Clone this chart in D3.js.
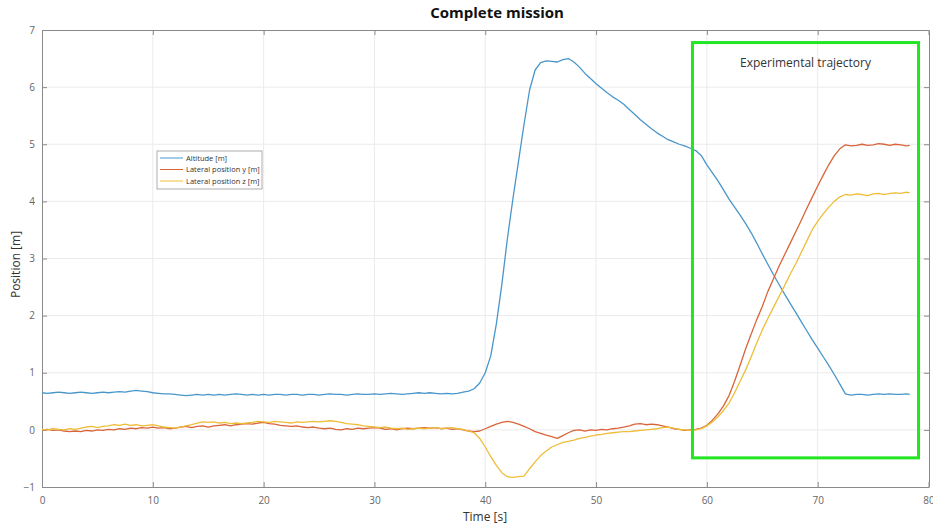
<!DOCTYPE html>
<html>
<head>
<meta charset="utf-8">
<script src="https://cdn.jsdelivr.net/npm/d3@7"></script>
<style>
  body { margin: 0; background: #fff; }
  text { font-family: "Open Sans", "Noto Sans", sans-serif; }
</style>
</head>
<body>
<div id="chart"></div>
<script>

// ------------------------------------------------------------------------ //
// DATA
// ------------------------------------------------------------------------ //

var time = [
  0, 0.5, 1, 1.5, 2, 2.5, 3, 3.5, 4, 4.5, 5, 5.5, 6, 6.5, 7, 7.5, 8, 8.5, 9, 9.5,
  10, 10.5, 11, 11.5, 12, 12.5, 13, 13.5, 14, 14.5, 15, 15.5, 16, 16.5, 17, 17.5, 18, 18.5, 19, 19.5,
  20, 20.5, 21, 21.5, 22, 22.5, 23, 23.5, 24, 24.5, 25, 25.5, 26, 26.5, 27, 27.5, 28, 28.5, 29, 29.5,
  30, 30.5, 31, 31.5, 32, 32.5, 33, 33.5, 34, 34.5, 35, 35.5, 36, 36.5, 37, 37.5, 38, 38.5, 39, 39.5,
  40, 40.5, 41, 41.5, 42, 42.5, 43, 43.5, 44, 44.5, 45, 45.5, 46, 46.5, 47, 47.5, 48, 48.5, 49, 49.5,
  50, 50.5, 51, 51.5, 52, 52.5, 53, 53.5, 54, 54.5, 55, 55.5, 56, 56.5, 57, 57.5, 58, 58.5, 59, 59.5,
  60, 60.5, 61, 61.5, 62, 62.5, 63, 63.5, 64, 64.5, 65, 65.5, 66, 66.5, 67, 67.5, 68, 68.5, 69, 69.5,
  70, 70.5, 71, 71.5, 72, 72.5, 73, 73.5, 74, 74.5, 75, 75.5, 76, 76.5, 77, 77.5, 78, 78.3
]

var altitude = [
  0.65, 0.64, 0.65, 0.66, 0.65, 0.64, 0.65, 0.66, 0.65, 0.64, 0.65, 0.66, 0.65, 0.66, 0.67, 0.66, 0.68, 0.69, 0.68, 0.67,
  0.65, 0.64, 0.63, 0.63, 0.62, 0.61, 0.60, 0.61, 0.62, 0.61, 0.62, 0.61, 0.62, 0.61, 0.62, 0.63, 0.62, 0.61, 0.62, 0.61,
  0.62, 0.61, 0.62, 0.62, 0.61, 0.62, 0.62, 0.61, 0.62, 0.62, 0.61, 0.62, 0.63, 0.62, 0.62, 0.61, 0.62, 0.63, 0.62, 0.62,
  0.63, 0.62, 0.63, 0.64, 0.63, 0.62, 0.63, 0.64, 0.65, 0.64, 0.65, 0.64, 0.63, 0.64, 0.63, 0.64, 0.66, 0.68, 0.72, 0.82,
  1.00, 1.30, 1.85, 2.55, 3.35, 4.05, 4.70, 5.35, 5.95, 6.30, 6.43, 6.46, 6.45, 6.44, 6.48, 6.50, 6.44, 6.35, 6.24, 6.15,
  6.06, 5.98, 5.90, 5.83, 5.77, 5.70, 5.61, 5.52, 5.43, 5.35, 5.27, 5.20, 5.14, 5.08, 5.04, 5.00, 4.97, 4.93, 4.89, 4.80,
  4.64, 4.50, 4.36, 4.20, 4.04, 3.90, 3.76, 3.61, 3.45, 3.27, 3.08, 2.90, 2.72, 2.55, 2.38, 2.22, 2.06, 1.90, 1.74, 1.58,
  1.43, 1.28, 1.13, 0.97, 0.80, 0.63, 0.61, 0.62, 0.62, 0.61, 0.62, 0.63, 0.62, 0.63, 0.62, 0.62, 0.63, 0.62
]

var lateralY = [
  0.00, 0.01, -0.01, 0.00, -0.02, -0.03, -0.02, -0.03, -0.01, -0.02, 0.00, -0.01, 0.01, 0.00, 0.02, 0.01, 0.03, 0.02, 0.04, 0.03,
  0.05, 0.03, 0.04, 0.02, 0.03, 0.05, 0.06, 0.04, 0.06, 0.07, 0.05, 0.07, 0.08, 0.09, 0.07, 0.09, 0.10, 0.11, 0.10, 0.12,
  0.13, 0.11, 0.10, 0.08, 0.07, 0.06, 0.07, 0.05, 0.04, 0.05, 0.03, 0.02, 0.03, 0.01, 0.00, 0.02, 0.01, 0.03, 0.02, 0.03,
  0.04, 0.03, 0.01, 0.02, 0.00, 0.02, 0.03, 0.02, 0.03, 0.04, 0.03, 0.04, 0.02, 0.03, 0.01, 0.02, 0.00, -0.02, -0.03, -0.02,
  0.02, 0.06, 0.10, 0.13, 0.15, 0.13, 0.10, 0.06, 0.02, -0.03, -0.06, -0.09, -0.12, -0.15, -0.10, -0.05, -0.01, 0.00, -0.02, 0.00,
  -0.01, 0.01, 0.00, 0.02, 0.03, 0.05, 0.07, 0.10, 0.11, 0.09, 0.10, 0.09, 0.07, 0.05, 0.02, 0.01, -0.01, 0.00, 0.01, 0.03,
  0.08, 0.17, 0.28, 0.42, 0.60, 0.85, 1.13, 1.42, 1.68, 1.93, 2.16, 2.42, 2.64, 2.86, 3.06, 3.26, 3.46, 3.66, 3.87, 4.07,
  4.27, 4.46, 4.64, 4.80, 4.92, 4.99, 4.97, 4.98, 5.00, 4.98, 4.99, 5.01, 5.00, 4.98, 5.00, 4.99, 4.97, 4.98
]

var lateralZ = [
  0.01, 0.00, 0.02, 0.01, 0.00, 0.02, 0.01, 0.03, 0.05, 0.06, 0.04, 0.06, 0.07, 0.09, 0.08, 0.10, 0.08, 0.09, 0.07, 0.08,
  0.09, 0.07, 0.05, 0.04, 0.03, 0.05, 0.07, 0.09, 0.12, 0.14, 0.13, 0.14, 0.12, 0.13, 0.11, 0.12, 0.11, 0.12, 0.13, 0.15,
  0.14, 0.13, 0.15, 0.14, 0.13, 0.12, 0.14, 0.13, 0.14, 0.15, 0.14, 0.15, 0.16, 0.15, 0.13, 0.11, 0.10, 0.09, 0.07, 0.06,
  0.05, 0.04, 0.05, 0.03, 0.02, 0.03, 0.01, 0.02, 0.03, 0.02, 0.03, 0.04, 0.02, 0.03, 0.04, 0.02, 0.01, -0.02, -0.05, -0.15,
  -0.30, -0.47, -0.62, -0.75, -0.82, -0.83, -0.82, -0.81, -0.68, -0.56, -0.45, -0.37, -0.30, -0.26, -0.22, -0.20, -0.18, -0.15, -0.13, -0.11,
  -0.09, -0.08, -0.06, -0.05, -0.04, -0.03, -0.03, -0.02, -0.01, 0.00, 0.01, 0.02, 0.04, 0.05, 0.03, 0.01, 0.00, -0.01, 0.00, 0.02,
  0.07, 0.14, 0.23, 0.34, 0.47, 0.65, 0.85, 1.05, 1.28, 1.52, 1.75, 1.95, 2.14, 2.33, 2.52, 2.72, 2.90, 3.10, 3.30, 3.50,
  3.65, 3.78, 3.90, 4.00, 4.08, 4.12, 4.11, 4.13, 4.12, 4.10, 4.13, 4.14, 4.12, 4.14, 4.15, 4.14, 4.16, 4.15
]

var seriesNames = ["Altitude [m]", "Lateral position y [m]", "Lateral position z [m]"]
var seriesColors = ["#4996cb", "#d9643a", "#eebd38"]

var xTicks = [0, 10, 20, 30, 40, 50, 60, 70, 80]
var yTicks = [-1, 0, 1, 2, 3, 4, 5, 6, 7]

// highlighted region: [t start, t end], [position low, position high]
var boxTime = [58.7, 79.1]
var boxPos = [-0.49, 6.78]
var boxLabel = "Experimental trajectory"

// ------------------------------------------------------------------------ //
// SVG AREA
// ------------------------------------------------------------------------ //

var margin = {top: 30, right: 4, bottom: 40, left: 42},
  width = 933 - margin.left - margin.right,
  height = 527 - margin.top - margin.bottom;

var svg = d3.select("#chart")
.append("svg")
  .attr("width", 933)
  .attr("height", 527)
.append("g")
  .attr("transform", "translate(" + margin.left + "," + margin.top + ")");

// ------------------------------------------------------------------------ //
// AXIS AND SCALES
// ------------------------------------------------------------------------ //

var x = d3.scaleLinear()
  .domain([0, 80])
  .range([0, width - 0.5]);

var y = d3.scaleLinear()
  .domain([-1, 7])
  .range([height, 0]);

// grid
svg.append("g")
  .selectAll("line")
  .data(xTicks.slice(1, -1))
  .enter()
  .append("line")
    .attr("x1", function(d){ return x(d) })
    .attr("x2", function(d){ return x(d) })
    .attr("y1", 0)
    .attr("y2", height)
    .style("stroke", "#ebebeb")
svg.append("g")
  .selectAll("line")
  .data(yTicks.slice(1, -1))
  .enter()
  .append("line")
    .attr("x1", 0)
    .attr("x2", width)
    .attr("y1", function(d){ return y(d) })
    .attr("y2", function(d){ return y(d) })
    .style("stroke", "#ebebeb")

// axes, ticks inside like matlab
var xAxis = svg.append("g")
  .attr("transform", "translate(0," + height + ")")
  .call(d3.axisBottom(x).tickValues(xTicks).tickSizeInner(-5).tickSizeOuter(0).tickPadding(10))
var yAxis = svg.append("g")
  .call(d3.axisLeft(y).tickValues(yTicks).tickSizeInner(-5).tickSizeOuter(0).tickPadding(7))
var xTop = svg.append("g")
  .call(d3.axisTop(x).tickValues(xTicks).tickSizeInner(-5).tickSizeOuter(0).tickFormat(""))
var yRight = svg.append("g")
  .attr("transform", "translate(" + width + ",0)")
  .call(d3.axisRight(y).tickValues(yTicks).tickSizeInner(-5).tickSizeOuter(0).tickFormat(""))

svg.selectAll(".domain").style("stroke", "#8a8a8a")
svg.selectAll(".tick line").style("stroke", "#8a8a8a")
svg.selectAll(".tick text")
  .style("font-size", "10px")
  .style("fill", "#666")
  .style("font-family", "'Open Sans', sans-serif")

// title + labels
svg.append("text")
  .attr("x", 455)
  .attr("y", -12)
  .style("text-anchor", "middle")
  .style("font-size", "15px")
  .style("font-weight", "bold")
  .style("fill", "#111")
  .text("Complete mission")

svg.append("text")
  .attr("x", 443)
  .attr("y", height + 34)
  .style("text-anchor", "middle")
  .style("font-size", "12px")
  .style("fill", "#333")
  .text("Time [s]")

svg.append("text")
  .attr("transform", "translate(-22," + (height / 2 + 6) + ")rotate(-90)")
  .style("text-anchor", "middle")
  .style("font-size", "12px")
  .style("fill", "#333")
  .text("Position [m]")

// ------------------------------------------------------------------------ //
// SHAPES
// ------------------------------------------------------------------------ //

var allSeries = [altitude, lateralY, lateralZ]

var line = d3.line()
  .x(function(d, i){ return x(time[i]) })
  .y(function(d){ return y(d) })

svg.selectAll(".series")
  .data(allSeries)
  .enter()
  .append("path")
    .attr("class", "series")
    .attr("d", function(d){ return line(d) })
    .style("fill", "none")
    .style("stroke", function(d, i){ return seriesColors[i] })
    .style("stroke-width", 1.3)
    .style("stroke-linejoin", "round")

// green box
svg.append("rect")
  .attr("x", x(boxTime[0]))
  .attr("y", y(boxPos[1]))
  .attr("width", x(boxTime[1]) - x(boxTime[0]))
  .attr("height", y(boxPos[0]) - y(boxPos[1]))
  .style("fill", "none")
  .style("stroke", "#22e622")
  .style("stroke-width", 3)

svg.append("text")
  .attr("x", (x(boxTime[0]) + x(boxTime[1])) / 2)
  .attr("y", y(boxPos[1]) + 24)
  .style("text-anchor", "middle")
  .style("font-size", "12px")
  .style("fill", "#333")
  .text(boxLabel)

// ------------------------------------------------------------------------ //
// LEGEND
// ------------------------------------------------------------------------ //

var legend = svg.append("g")
  .attr("transform", "translate(115,121)")

legend.append("rect")
  .attr("width", 105)
  .attr("height", 38)
  .style("fill", "#fff")
  .style("stroke", "#9a9a9a")
  .style("stroke-width", 0.8)

var items = legend.selectAll(".item")
  .data(seriesNames)
  .enter()
  .append("g")
    .attr("transform", function(d, i){ return "translate(0," + (7 + i * 11.5) + ")" })

items.append("line")
  .attr("x1", 3)
  .attr("x2", 26)
  .style("stroke", function(d, i){ return seriesColors[i] })
  .style("stroke-width", 1)

items.append("text")
  .attr("x", 29)
  .attr("y", 2.5)
  .style("font-size", "7.5px")
  .style("fill", "#333")
  .text(function(d){ return d })

</script>
</body>
</html>
